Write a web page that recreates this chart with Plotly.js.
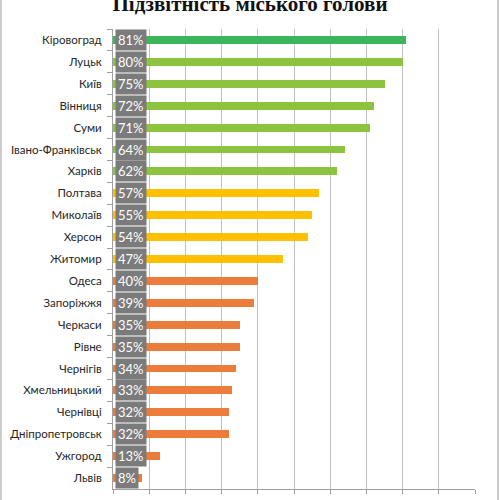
<!DOCTYPE html>
<html>
<head>
<meta charset="utf-8">
<script src="https://cdn.plot.ly/plotly-3.0.1.min.js"></script>
<style>html,body{margin:0;padding:0;background:#fff}#chart{width:500px;height:500px}</style>
</head>
<body>
<div id="chart"></div>
<script>
var cities = ["Кіровоград","Луцьк","Київ","Вінниця","Суми","Івано-Франківськ","Харків","Полтава","Миколаїв","Херсон","Житомир","Одеса","Запоріжжя","Черкаси","Рівне","Чернігів","Хмельницький","Чернівці","Дніпропетровськ","Ужгород","Львів"];
var values = [81,80,75,72,71,64,62,57,55,54,47,40,39,35,35,34,33,32,32,13,8];
var groups = ["top","high","high","high","high","high","high","mid","mid","mid","mid","low","low","low","low","low","low","low","low","low","low"];
var chartTitle = "Підзвітність міського голови";

var groupColors = {top:"#3db55b", high:"#8cc43f", mid:"#ffc000", low:"#ec7c3a"};
var colors = groups.map(function(g){return groupColors[g];});

var trace = {
  type: "bar",
  orientation: "h",
  x: values,
  y: cities,
  width: 0.36,
  marker: {color: colors},
  hoverinfo: "none"
};

var annotations = cities.map(function(c, i){
  return {
    x: 0, y: c, xref: "x", yref: "y",
    text: values[i] + "%",
    showarrow: false,
    xanchor: "left", yanchor: "middle",
    xshift: 2,
    bgcolor: "#7b7b7b",
    borderpad: 2,
    font: {family: "Lato, 'Open Sans', sans-serif", size: 13, color: "#ffffff"}
  };
});

var layout = {
  width: 500, height: 500,
  margin: {l: 113, r: 25, t: 29, b: 11},
  paper_bgcolor: "#ffffff",
  plot_bgcolor: "#ffffff",
  showlegend: false,
  bargap: 0,
  title: {
    text: "<b>" + chartTitle + "</b>",
    font: {family: "'Liberation Serif', 'DejaVu Serif', serif", size: 21, color: "#111111"},
    x: 0.5, xref: "container", xanchor: "center",
    y: 0.993, yref: "container", yanchor: "middle"
  },
  xaxis: {
    range: [0, 100],
    dtick: 10,
    showgrid: true,
    gridcolor: "#c0c0c0",
    gridwidth: 1,
    zeroline: false,
    showticklabels: false,
    ticks: "outside",
    ticklen: 4,
    tickcolor: "#a0a0a0",
    showline: true,
    linecolor: "#a0a0a0",
    fixedrange: true
  },
  yaxis: {
    autorange: "reversed",
    type: "category",
    ticks: "outside",
    tickson: "boundaries",
    ticklen: 5,
    tickcolor: "#a0a0a0",
    showline: true,
    linecolor: "#a0a0a0",
    showgrid: false,
    ticklabelstandoff: 8,
    tickfont: {family: "Lato, 'Open Sans', sans-serif", size: 11.5, color: "#262626"},
    fixedrange: true
  },
  annotations: annotations,
  shapes: [{
    type: "rect", xref: "paper", yref: "paper",
    x0: -112/362, x1: 385/362, y0: -0.2, y1: 1.2,
    line: {color: "#9a9a9a", width: 1}, fillcolor: "rgba(0,0,0,0)", layer: "below"
  }]
};

Plotly.newPlot("chart", [trace], layout, {displayModeBar: false, staticPlot: true});
</script>
</body>
</html>
